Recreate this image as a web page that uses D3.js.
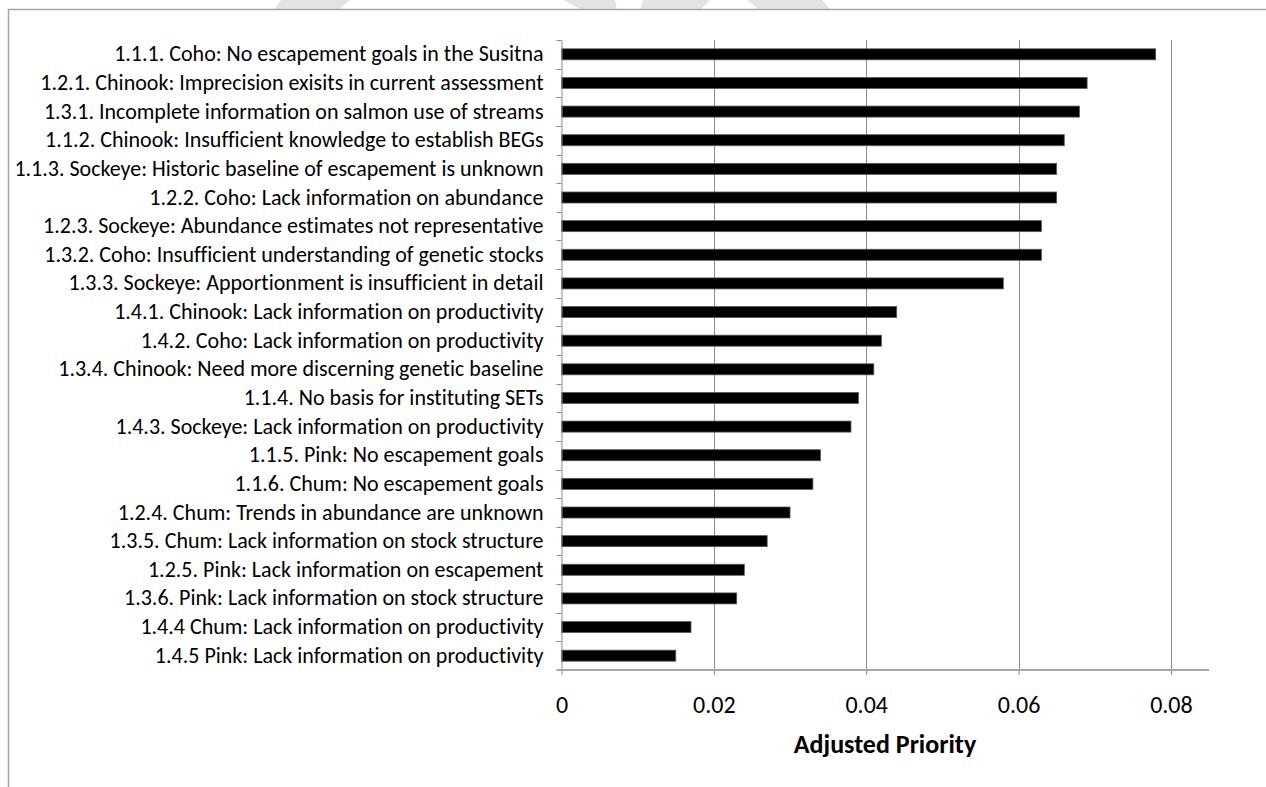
<!DOCTYPE html>
<html>
<head>
<meta charset="utf-8">
<script src="https://cdn.jsdelivr.net/npm/d3@7"></script>
<style>
  html, body { margin: 0; padding: 0; background: #fff; }
  svg { display: block; }
  text { font-family: Carlito, Calibri, "Open Sans", sans-serif; fill: #000; font-variant-ligatures: none; }
</style>
</head>
<body>
<svg id="chart" width="1266" height="787"></svg>
<script>
// Research needs, ordered by adjusted priority (highest first)
const categories = [
  "1.1.1. Coho: No escapement goals in the Susitna",
  "1.2.1. Chinook: Imprecision exisits in current assessment",
  "1.3.1. Incomplete information on salmon use of streams",
  "1.1.2. Chinook: Insufficient knowledge to establish BEGs",
  "1.1.3. Sockeye: Historic baseline of escapement is unknown",
  "1.2.2. Coho: Lack information on abundance",
  "1.2.3. Sockeye: Abundance estimates not representative",
  "1.3.2. Coho: Insufficient understanding of genetic stocks",
  "1.3.3. Sockeye: Apportionment is insufficient in detail",
  "1.4.1. Chinook: Lack information on productivity",
  "1.4.2. Coho: Lack information on productivity",
  "1.3.4. Chinook: Need more discerning genetic baseline ",
  "1.1.4. No basis for instituting SETs",
  "1.4.3. Sockeye: Lack information on productivity",
  "1.1.5. Pink: No escapement goals",
  "1.1.6. Chum: No escapement goals",
  "1.2.4. Chum: Trends in abundance are unknown",
  "1.3.5. Chum: Lack information on stock structure",
  "1.2.5. Pink: Lack information on escapement",
  "1.3.6. Pink: Lack information on stock structure",
  "1.4.4 Chum: Lack information on productivity",
  "1.4.5 Pink: Lack information on productivity"
];

const priority = [
  0.078, 0.069, 0.068, 0.066, 0.065, 0.065, 0.063, 0.063, 0.058, 0.044, 0.042,
  0.041, 0.039, 0.038, 0.034, 0.033, 0.030, 0.027, 0.024, 0.023, 0.017, 0.015
];

const xTicks = [0, 0.02, 0.04, 0.06, 0.08];
const xTickLabels = ["0", "0.02", "0.04", "0.06", "0.08"];
const xAxisTitle = "Adjusted Priority";

const data = categories.map((c, i) => ({ name: c, value: priority[i] }));

const svg = d3.select("#chart");
const FONT = "Carlito, Calibri, 'Open Sans', sans-serif";

const plot = { left: 561.5, right: 1209, top: 40, bottom: 670 };

// Watermark fragments showing above the chart frame
const watermark = [
  [[281, 0], [350, 0], [338, 10], [274, 10]],
  [[563, 0], [615, 0], [617, 10], [582, 10]],
  [[643, 0], [710, 0], [700, 10], [640, 10]],
  [[747, 0], [822, 0], [831, 10], [760, 10]]
];
svg.append("g")
  .selectAll("path")
  .data(watermark)
  .join("path")
  .attr("d", p => d3.line()(p) + "Z")
  .attr("fill", "#e3e3e3");

// Chart frame (left and top edges)
svg.append("path")
  .attr("d", "M8.5,787 V9.5 H1266")
  .attr("fill", "none")
  .attr("stroke", "#a6a6a6")
  .attr("stroke-width", 1.5);

const x = d3.scaleLinear().domain([0, 0.085]).range([plot.left, plot.right]);
const y = d3.scaleBand()
  .domain(categories)
  .range([plot.top, plot.bottom])
  .paddingInner(0.615)
  .paddingOuter(0.3075);

// Vertical gridlines
svg.append("g")
  .selectAll("line")
  .data(xTicks.slice(1))
  .join("line")
  .attr("x1", d => Math.round(x(d)) + 0.5)
  .attr("x2", d => Math.round(x(d)) + 0.5)
  .attr("y1", plot.top)
  .attr("y2", plot.bottom)
  .attr("stroke", "#8c8c8c")
  .attr("stroke-width", 1);

// Bars
svg.append("g")
  .selectAll("rect")
  .data(data)
  .join("rect")
  .attr("x", x(0))
  .attr("y", d => y(d.name))
  .attr("width", d => x(d.value) - x(0))
  .attr("height", y.bandwidth())
  .attr("fill", "#000")
  .attr("stroke", "#5a5a5a")
  .attr("stroke-width", 0.8);

// Category axis
const yAxis = d3.axisLeft(y).tickSize(0).tickPadding(18);
const gy = svg.append("g")
  .attr("transform", `translate(${plot.left},0)`)
  .call(yAxis)
  .attr("font-family", FONT)
  .attr("font-size", 22);
gy.select(".domain").attr("stroke", "#8c8c8c").attr("stroke-width", 1);
gy.selectAll("text").attr("fill", "#000");

// Tick marks at category boundaries
const boundaries = categories.map(c => y(c) - y.step() * y.paddingInner() / 2).concat([plot.bottom]);
svg.append("g")
  .selectAll("line")
  .data(boundaries)
  .join("line")
  .attr("x1", plot.left - 5)
  .attr("x2", plot.left)
  .attr("y1", d => Math.round(d) + 0.5)
  .attr("y2", d => Math.round(d) + 0.5)
  .attr("stroke", "#8c8c8c");

// Value axis
const xAxis = d3.axisBottom(x)
  .tickValues(xTicks)
  .tickFormat((d, i) => xTickLabels[i])
  .tickSizeInner(5)
  .tickSizeOuter(0)
  .tickPadding(21);
const gx = svg.append("g")
  .attr("transform", `translate(0,${plot.bottom})`)
  .call(xAxis)
  .attr("font-family", FONT)
  .attr("font-size", 24);
gx.select(".domain")
  .attr("d", `M${plot.left - 5},0H${plot.right}`)
  .attr("stroke", "#a6a6a6")
  .attr("stroke-width", 2);
gx.selectAll(".tick line").attr("stroke", "#8c8c8c");
gx.selectAll("text").attr("fill", "#000");

svg.append("text")
  .attr("x", 885)
  .attr("y", 753)
  .attr("text-anchor", "middle")
  .attr("font-family", FONT)
  .attr("font-size", 26)
  .attr("font-weight", "bold")
  .text(xAxisTitle);
</script>
</body>
</html>
